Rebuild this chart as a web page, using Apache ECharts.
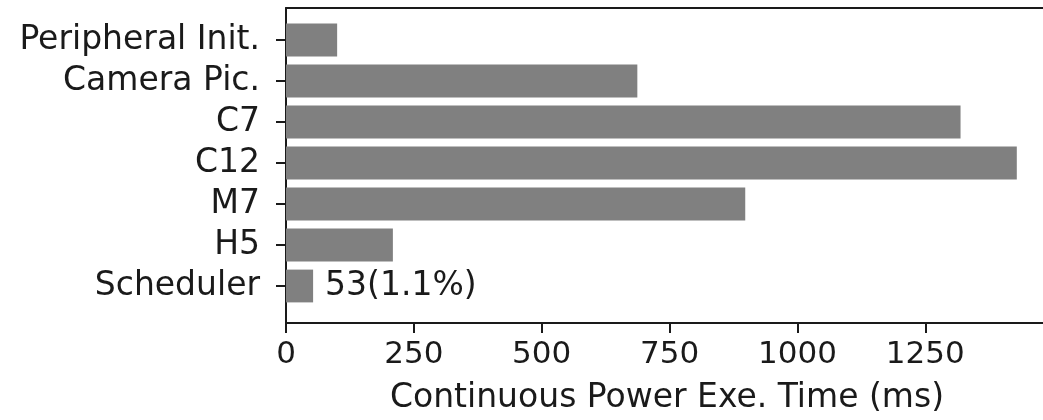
<!DOCTYPE html>
<html>
<head>
<meta charset="utf-8">
<script src="https://cdn.jsdelivr.net/npm/echarts@6/dist/echarts.min.js"></script>
<style>
  html, body { margin: 0; padding: 0; background: #fff; }
  #chart { width: 1043px; height: 420px; }
</style>
</head>
<body>
<div id="chart"></div>
<script>
// categories, top to bottom
var categories = ['Peripheral Init.', 'Camera Pic.', 'C7', 'C12', 'M7', 'H5', 'Scheduler'];
// continuous power execution time (ms)
var times = [100, 687, 1319, 1429, 898, 209, 53];
// x ticks
var xTicks = [0, 250, 500, 750, 1000, 1250];
var xMax = 1490;
var labelled = 'Scheduler'; // only this bar carries a value label

var total = times.reduce(function (a, b) { return a + b; }, 0);
var font = 'DejaVu Sans';
var ink = '#1a1a1a';

var chart = echarts.init(document.getElementById('chart'));

var option = {
  animation: false,
  backgroundColor: '#fff',
  grid: [
    // frame (spines + x ticks)
    { left: 286, top: 8, width: 762, height: 315, outerBoundsMode: 'none' },
    // bars
    { left: 286, top: 19.5, width: 762, height: 287, outerBoundsMode: 'none' }
  ],
  xAxis: [
    {
      gridIndex: 0, type: 'value', min: 0, max: xMax, interval: 250,
      position: 'bottom',
      name: 'Continuous Power Exe. Time (ms)',
      nameLocation: 'middle', nameGap: 59,
      nameTextStyle: { fontFamily: font, fontSize: 33, color: ink },
      axisLine: { show: true, lineStyle: { color: ink, width: 2 } },
      axisTick: { show: true, length: 10, lineStyle: { color: ink, width: 2 },
        customValues: xTicks },
      axisLabel: { show: true, margin: 16, fontFamily: font, fontSize: 31, color: ink,
        customValues: xTicks,
        formatter: function (v) { return String(v); } },
      splitLine: { show: false }
    },
    {
      gridIndex: 1, type: 'value', min: 0, max: xMax, show: false
    },
    {
      // top spine
      gridIndex: 0, type: 'value', min: 0, max: xMax, position: 'top',
      axisLine: { show: true, lineStyle: { color: ink, width: 2 } },
      axisTick: { show: false }, axisLabel: { show: false }, splitLine: { show: false }
    }
  ],
  yAxis: [
    {
      // left spine
      gridIndex: 0, type: 'value', min: 0, max: 1,
      axisLine: { show: true, lineStyle: { color: ink, width: 2 } },
      axisTick: { show: false }, axisLabel: { show: false }, splitLine: { show: false }
    },
    {
      gridIndex: 1, type: 'category', data: categories, inverse: true,
      axisLine: { show: false },
      axisTick: { show: true, alignWithLabel: true, length: 10,
        lineStyle: { color: ink, width: 2 } },
      axisLabel: { margin: 26, fontFamily: font, fontSize: 33, color: ink, interval: 0 },
      splitLine: { show: false }
    }
  ],
  series: [
    {
      type: 'bar',
      xAxisIndex: 1, yAxisIndex: 1,
      data: times,
      barCategoryGap: '20%',
      itemStyle: { color: '#808080' },
      label: {
        show: true, position: 'right', distance: 12,
        fontFamily: font, fontSize: 33, color: ink,
        formatter: function (p) {
          if (p.name !== labelled) return '';
          return p.value + '(' + (p.value / total * 100).toFixed(1) + '%)';
        }
      }
    }
  ]
};

chart.setOption(option);
</script>
</body>
</html>
